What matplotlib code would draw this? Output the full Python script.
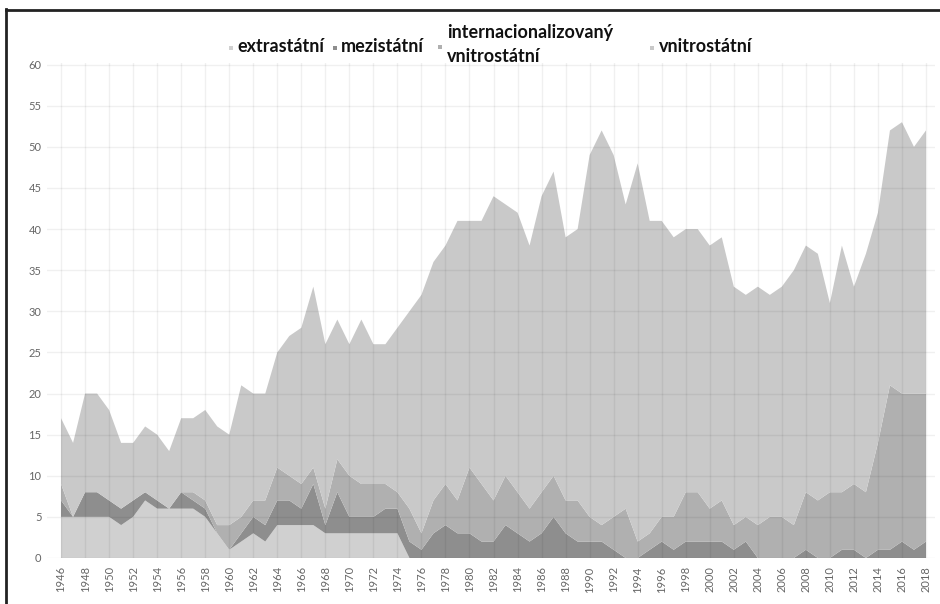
import matplotlib
matplotlib.use("Agg")
import matplotlib.pyplot as plt
from matplotlib.patches import Rectangle
from matplotlib.lines import Line2D
import numpy as np

years = list(range(1946, 2019))

# cumulative tops
total_top = [17, 14, 20, 20, 18, 14, 14, 16, 15, 13,
             17, 17, 18, 16, 15, 21, 20, 20, 25, 27,
             28, 33, 26, 29, 26, 29, 26, 26, 28, 30,
             32, 36, 38, 41, 41, 41, 44, 43, 42, 38,
             44, 47, 39, 40, 49, 52, 49, 43, 48, 41,
             41, 39, 40, 40, 38, 39, 33, 32, 33, 32,
             33, 35, 38, 37, 31, 38, 33, 37, 42, 52,
             53, 50, 52]
intl_top = [9, 5, 8, 8, 7, 6, 7, 8, 7, 6,
            8, 8, 7, 4, 4, 5, 7, 7, 11, 10,
            9, 11, 6, 12, 10, 9, 9, 9, 8, 6,
            3, 7, 9, 7, 11, 9, 7, 10, 8, 6,
            8, 10, 7, 7, 5, 4, 5, 6, 2, 3,
            5, 5, 8, 8, 6, 7, 4, 5, 4, 5,
            5, 4, 8, 7, 8, 8, 9, 8, 14, 21,
            20, 20, 20]
mezi_top = [7, 5, 8, 8, 7, 6, 7, 8, 7, 6,
            8, 7, 6, 3, 1, 3, 5, 4, 7, 7,
            6, 9, 4, 8, 5, 5, 5, 6, 6, 2,
            1, 3, 4, 3, 3, 2, 2, 4, 3, 2,
            3, 5, 3, 2, 2, 2, 1, 0, 0, 1,
            2, 1, 2, 2, 2, 2, 1, 2, 0, 0,
            0, 0, 1, 0, 0, 1, 1, 0, 1, 1,
            2, 1, 2]
extra_vals = [5, 5, 5, 5, 5, 4, 5, 7, 6, 6,
              6, 6, 5, 3, 1, 2, 3, 2, 4, 4,
              4, 4, 3, 3, 3, 3, 3, 3, 3, 0] + [0] * 43

extra = np.array(extra_vals)
mezi = np.array(mezi_top) - extra
intl = np.array(intl_top) - np.array(mezi_top)
vnitro = np.array(total_top) - np.array(intl_top)

labels = ["extrastátní", "mezistátní", "internacionalizovaný\nvnitrostátní", "vnitrostátní"]
colors = ["#d0d0d0", "#8e8e8e", "#b0b0b0", "#c9c9c9"]

W, H = 940, 604
fig = plt.figure(figsize=(W / 100, H / 100), dpi=100)
ax = fig.add_axes([47 / W, (H - 558) / H, (935 - 47) / W, (558 - 63) / H])

ax.stackplot(years, extra, mezi, intl, vnitro, colors=colors, linewidth=0)

ax.set_xlim(1944.83, 2018.75)
ax.set_ylim(0, 60.2)
ax.set_yticks(range(0, 61, 5))
ax.set_xticks(range(1946, 2019, 2))
ax.set_xticklabels([str(y) for y in range(1946, 2019, 2)], rotation=90)
ax.tick_params(axis="both", length=0, labelsize=8, labelcolor="#666666")
ax.tick_params(axis="y", pad=4)
ax.tick_params(axis="x", pad=6)
for lab in ax.get_xticklabels() + ax.get_yticklabels():
    lab.set_fontfamily("Lato")
ax.grid(True, color="#000000", alpha=0.06, linewidth=1)
ax.set_axisbelow(False)
for s in ax.spines.values():
    s.set_visible(False)

# frame
fig.add_artist(Line2D([6 / W, 6 / W], [0, 1 - 9 / H], transform=fig.transFigure,
                      color="#222222", linewidth=2))
fig.add_artist(Line2D([6 / W, 1], [1 - 9.5 / H, 1 - 9.5 / H], transform=fig.transFigure,
                      color="#222222", linewidth=2))

# legend
entries = [
    (231, 48, 237, 47, labels[0], colors[0]),
    (335, 48, 341, 47, labels[1], colors[1]),
    (440, 47, 447, 44.5, labels[2], colors[2]),
    (652, 48, 659, 47, labels[3], colors[3]),
]
for mx, my, tx, ty, txt, c in entries:
    fig.add_artist(Rectangle((mx / W - 2 / W, 1 - my / H - 2 / H), 4 / W, 4 / H,
                             transform=fig.transFigure, facecolor=c, edgecolor="none"))
    fig.text(tx / W, 1 - ty / H, txt, ha="left", va="center", fontsize=13,
             fontweight="bold", fontfamily="Lato", color="#111111", linespacing=1.55)

fig.savefig("out.png", dpi=100)
